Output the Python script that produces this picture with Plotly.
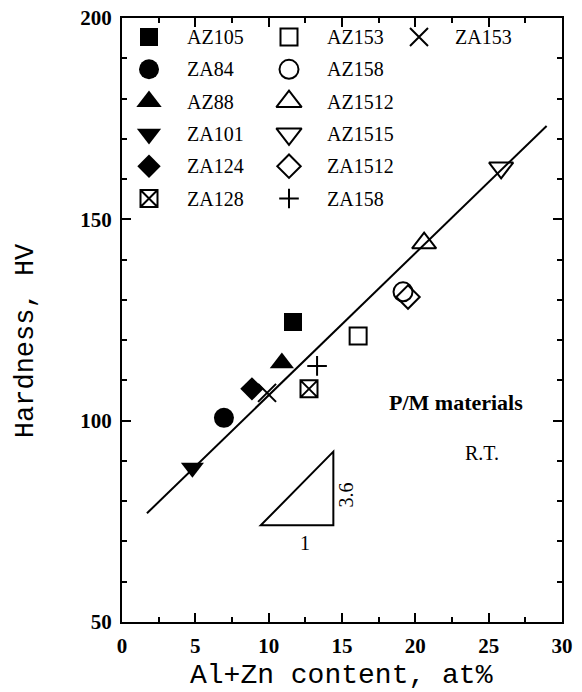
import plotly.graph_objects as go

# ---------------- data ----------------
alloys = ["AZ105", "ZA84", "AZ88", "ZA101", "ZA124", "ZA128",
          "AZ153", "AZ158", "AZ1512", "AZ1515", "ZA1512", "ZA158", "ZA153"]
content = [11.66, 6.95, 10.9, 4.8, 8.86, 12.75,
           16.1, 19.16, 20.6, 25.85, 19.5, 13.3, 9.89]
hardness = [124.5, 100.7, 114.3, 88.3, 107.9, 107.9,
            121.0, 132.0, 144.1, 162.8, 130.7, 113.6, 106.9]

fit_x = [1.7, 28.95]
fit_y = [77.0, 173.2]

x_ticks = [0, 5, 10, 15, 20, 25, 30]
y_ticks = [50, 100, 150, 200]

# legend grid (column-wise order)
legend_cols = [
    ["AZ105", "ZA84", "AZ88", "ZA101", "ZA124", "ZA128"],
    ["AZ153", "AZ158", "AZ1512", "AZ1515", "ZA1512", "ZA158"],
    ["ZA153"],
]

# ---------------- styles ----------------
STYLE = {
    "AZ105": dict(symbol="square", size=18, line=0),
    "ZA84": dict(symbol="circle", size=20, line=0),
    "AZ88": dict(symbol="triangle-up", size=21, line=0),
    "ZA101": dict(symbol="triangle-down", size=20, line=0),
    "ZA124": dict(symbol="diamond", size=18, line=0),
    "ZA128": dict(symbol="square-x-open", size=17, line=2),
    "AZ153": dict(symbol="square-open", size=17, line=2),
    "AZ158": dict(symbol="circle-open", size=19, line=2),
    "AZ1512": dict(symbol="triangle-up-open", size=21, line=2),
    "AZ1515": dict(symbol="triangle-down-open", size=21, line=2),
    "ZA1512": dict(symbol="diamond-open", size=18, line=2),
    "ZA158": dict(symbol="cross-thin", size=14, line=2),
    "ZA153": dict(symbol="x-thin", size=18, line=2),
}

# body margin is removed in the page (post_script), figure fills the window
W, H = 582, 692
ML, MR, MT, MB = 122, 20, 18, 70
PW, PH = W - ML - MR, H - MT - MB

MONO = "Liberation Mono"
SERIF = "Liberation Serif"

fig = go.Figure()

# fitted line
fig.add_trace(go.Scatter(x=fit_x, y=fit_y, mode="lines",
                         line=dict(color="black", width=2),
                         showlegend=False, hoverinfo="skip"))

# data points
for name, xv, yv in zip(alloys, content, hardness):
    st = STYLE[name]
    fig.add_trace(go.Scatter(
        x=[xv], y=[yv], mode="markers", name=name, showlegend=False,
        marker=dict(symbol=st["symbol"], size=st["size"], color="black",
                    line=dict(color="black", width=st["line"]))))

# manual legend on a pixel overlay axis
COL_MARK_X = [27, 167, 297]
COL_TEXT_X = [63, 203, 331]
ROW_Y0, ROW_DY = 19, 32.3
annotations = []
for c, col in enumerate(legend_cols):
    for r, name in enumerate(col):
        st = STYLE[name]
        yy = ROW_Y0 + r * ROW_DY
        fig.add_trace(go.Scatter(
            x=[COL_MARK_X[c]], y=[yy], xaxis="x2", yaxis="y2",
            mode="markers", showlegend=False, hoverinfo="skip",
            marker=dict(symbol=st["symbol"], size=st["size"] + (1 if "triangle" in st["symbol"] else 0),
                        color="black",
                        line=dict(color="black", width=st["line"]))))
        annotations.append(dict(
            x=COL_TEXT_X[c], y=yy, xref="x2", yref="y2", text=name,
            showarrow=False, xanchor="left", yanchor="middle",
            font=dict(family=SERIF, size=20, color="black")))

# slope triangle
TRI = dict(x0=9.46, x1=14.41, y0=74.0, y1=92.3)
fig.add_shape(type="path",
              path=f"M {TRI['x0']},{TRI['y0']} L {TRI['x1']},{TRI['y0']} L {TRI['x1']},{TRI['y1']} Z",
              xref="x", yref="y", line=dict(color="black", width=2))
annotations += [
    dict(x=TRI["x1"], y=81.5, xref="x", yref="y", text="3.6", textangle=-90,
         showarrow=False, xshift=13, font=dict(family=SERIF, size=20, color="black")),
    dict(x=12.48, y=69.6, xref="x", yref="y", text="1",
         showarrow=False, font=dict(family=SERIF, size=20, color="black")),
    dict(x=22.74, y=104.4, xref="x", yref="y", text="<b>P/M materials</b>",
         showarrow=False, font=dict(family=SERIF, size=22, color="black")),
    dict(x=24.55, y=92.0, xref="x", yref="y", text="R.T.",
         showarrow=False, font=dict(family=SERIF, size=20, color="black")),
    # axis titles
    dict(x=0.498, y=0, xref="paper", yref="paper", yshift=-53, text="Al+Zn content, at%",
         showarrow=False, yanchor="middle", font=dict(family=MONO, size=28, color="black")),
    dict(x=0, y=0.465, xref="paper", yref="paper", xshift=-96, text="Hardness, HV",
         textangle=-90, showarrow=False, xanchor="center",
         font=dict(family=MONO, size=27, color="black")),
]

TICKFONT = dict(family=SERIF, size=21, color="black", weight="bold")
axis_common = dict(showgrid=False, zeroline=False, showline=True, linecolor="black",
                   linewidth=2, mirror="ticks", ticks="inside", tickcolor="black",
                   tickwidth=1.5, ticklen=9, tickfont=TICKFONT, ticklabelstandoff=4,
                   automargin=False, ticklabeloverflow="allow")

fig.update_layout(
    template="none",
    width=W, height=H, autosize=False,
    margin=dict(l=ML, r=MR, t=MT, b=MB),
    paper_bgcolor="white", plot_bgcolor="white",
    showlegend=False,
    xaxis=dict(range=[0, 30], tickvals=x_ticks,
               minor=dict(ticks="inside", dtick=2.5, ticklen=5, tickcolor="black", tickwidth=1.5),
               **axis_common),
    yaxis=dict(range=[50, 200], tickvals=y_ticks,
               minor=dict(ticks="inside", dtick=10, ticklen=5, tickcolor="black", tickwidth=1.5),
               **axis_common),
    xaxis2=dict(range=[0, PW], overlaying="x", visible=False, fixedrange=True, automargin=False),
    yaxis2=dict(range=[PH, 0], overlaying="y", visible=False, fixedrange=True, automargin=False),
    annotations=annotations,
)

fig.write_html("out.html",
               config={"displayModeBar": False},
               post_script="document.body.style.margin='0';document.body.style.overflow='hidden';")
